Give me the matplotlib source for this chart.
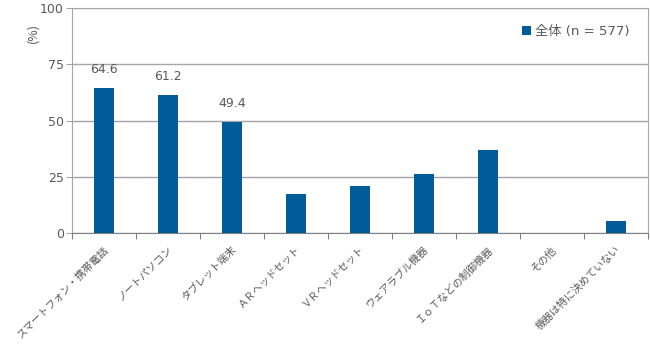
import numpy as np
import matplotlib.pyplot as plt
import matplotlib.transforms as mtransforms

plt.rcParams['font.family'] = ['Noto Sans CJK JP', 'DejaVu Sans']

# Device usage (%), all respondents
categories = ['スマートフォン・携帯電話', 'ノートパソコン', 'タブレット端末', 'ＡＲヘッドセット',
              'ＶＲヘッドセット', 'ウェアラブル機器', 'ＩｏＴなどの制御機器', 'その他', '機器は特に決めていない']
values = [64.6, 61.2, 49.4, 17.5, 21.0, 26.3, 36.9, 0.0, 5.5]
labelled = [0, 1, 2]
series_name = '全体 (n = 577)'

bar_color = '#005b9a'
grid_color = '#a6a6a6'
text_color = '#595959'

fig = plt.figure(figsize=(6.5, 3.47), dpi=100)
ax = fig.add_axes([0.111, 0.328, 0.886, 0.649])

x = np.arange(len(categories))
bars = ax.bar(x, values, width=0.31, color=bar_color, label=series_name, zorder=3)

for i in labelled:
    ax.text(x[i], values[i] + 8.3, f'{values[i]:.1f}', ha='center', va='center',
            fontsize=9, color=text_color, family='DejaVu Sans')

ax.set_xlim(-0.5, len(categories) - 0.5)
ax.set_ylim(0, 100)
ax.set_yticks([0, 25, 50, 75, 100])
ax.yaxis.grid(True, color=grid_color, linewidth=1)
ax.set_axisbelow(True)

for name in ['top', 'right']:
    ax.spines[name].set_color(grid_color)
ax.spines['left'].set_color(grid_color)
ax.spines['bottom'].set_color('#808080')

ax.tick_params(axis='y', length=4, color=grid_color, labelcolor=text_color, labelsize=9, pad=2)
ax.set_yticklabels([0, 25, 50, 75, 100], family='DejaVu Sans')

# ticks sit on category boundaries, labels at the centres
ax.set_xticks(np.arange(len(categories) + 1) - 0.5)
ax.set_xticklabels([])
ax.tick_params(axis='x', length=4, color='#808080')
offset = mtransforms.ScaledTranslation(-0.01, -0.11, fig.dpi_scale_trans)
for xi, name in zip(x, categories):
    ax.text(xi, 0, name, rotation=45, ha='right', va='top', rotation_mode='anchor',
            fontsize=7.5, color=text_color, transform=ax.transData + offset)

ax.text(-0.069, 0.89, '(%)', rotation=90, ha='center', va='center', fontsize=9,
        color=text_color, transform=ax.transAxes)

leg = ax.legend(loc='upper right', frameon=False, handlelength=0.7,
                handleheight=0.7, handletextpad=0.3, bbox_to_anchor=(0.988, 0.978),
                prop={'family': ['DejaVu Sans', 'Noto Sans CJK JP'], 'size': 9.5})
for t in leg.get_texts():
    t.set_color(text_color)

fig.savefig('out.png', dpi=100)
